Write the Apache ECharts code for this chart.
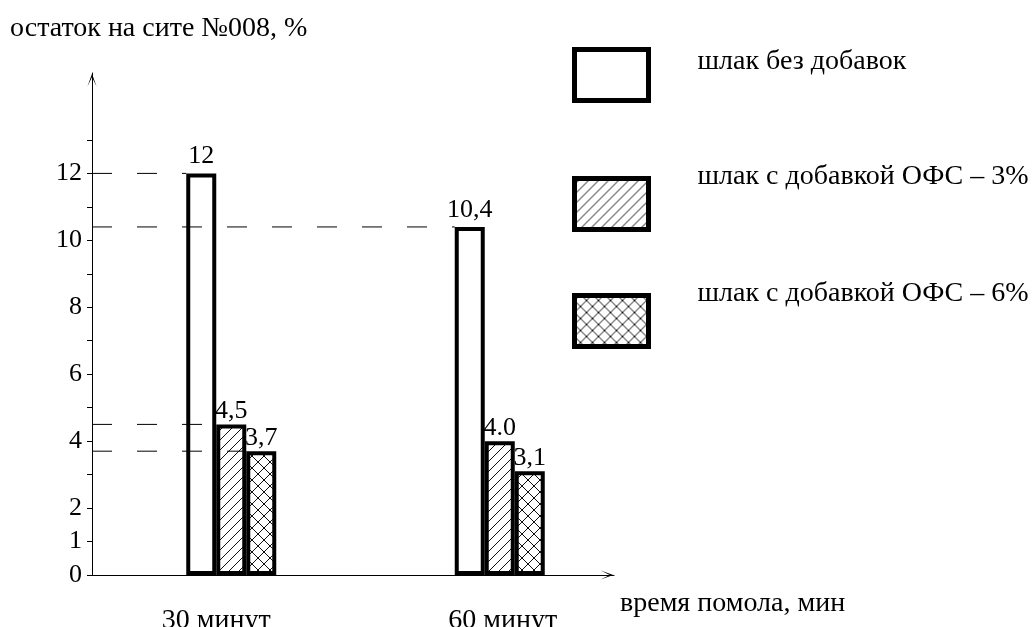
<!DOCTYPE html>
<html><head><meta charset="utf-8">
<script src="https://cdn.jsdelivr.net/npm/echarts@6/dist/echarts.min.js"></script>
<style>html,body{margin:0;padding:0;background:#fff}#c{width:1032px;height:627px}</style>
</head><body><div id="c"></div>
<script>
// ---- data ----
const categories = ['30 минут', '60 минут'];
const seriesNames = ['шлак без добавок', 'шлак с добавкой ОФС – 3%', 'шлак с добавкой ОФС – 6%'];
const plainValues = [12, 10.4];
const ofs3Values = [4.5, 4.0];
const ofs6Values = [3.7, 3.1];
const plainLabels = ['12', '10,4'];
const ofs3Labels = ['4,5', '4.0'];
const ofs6Labels = ['3,7', '3,1'];
const yTickValues = [0, 1, 2, 3, 4, 5, 6, 7, 8, 9, 10, 11, 12, 13];
const yLabelValues = [0, 1, 2, 4, 6, 8, 10, 12];
const yMin = 0, yMax = 15;
const yAxisTitle = 'остаток на сите №008, %';
const xAxisTitle = 'время помола, мин';
// guide lines: [series index, category index]
const guideRefs = [[0, 0], [0, 1], [1, 0], [2, 0]];

// ---- style ----
const FONT = "'Liberation Serif','Times New Roman',serif";
const BAR_W = 30;
const AXIS_SHIFT = 5;
const allValues = [plainValues, ofs3Values, ofs6Values];
const allLabels = [plainLabels, ofs3Labels, ofs6Labels];
const labelDistance = [4, 0, 0];

function hatchTile() {
  const s = 10, c = document.createElement('canvas'); c.width = c.height = s;
  const g = c.getContext('2d'); g.fillStyle = '#fff'; g.fillRect(0, 0, s, s);
  g.strokeStyle = '#111'; g.lineWidth = 1; g.beginPath();
  g.moveTo(-1, s + 1); g.lineTo(s + 1, -1);
  g.moveTo(-1, 1); g.lineTo(1, -1);
  g.moveTo(s - 1, s + 1); g.lineTo(s + 1, s - 1);
  g.stroke(); return c;
}
function crossTile() {
  const s = 12, c = document.createElement('canvas'); c.width = c.height = s;
  const g = c.getContext('2d'); g.fillStyle = '#fff'; g.fillRect(0, 0, s, s);
  g.strokeStyle = '#111'; g.lineWidth = 1; g.beginPath();
  g.moveTo(-1, s + 1); g.lineTo(s + 1, -1);
  g.moveTo(-1, -1); g.lineTo(s + 1, s + 1);
  g.moveTo(-1, 1); g.lineTo(1, -1);
  g.moveTo(s - 1, s + 1); g.lineTo(s + 1, s - 1);
  g.moveTo(s - 1, -1); g.lineTo(s + 1, 1);
  g.moveTo(-1, s - 1); g.lineTo(1, s + 1);
  g.stroke(); return c;
}
const fills = ['#ffffff', { image: hatchTile(), repeat: 'repeat' }, { image: crossTile(), repeat: 'repeat' }];

const arrowPath = 'path://M0,14 L5,0 L10,14 L5,4 Z';

function barSeries(i) {
  return {
    type: 'bar', name: seriesNames[i], xAxisIndex: 0, yAxisIndex: 0,
    data: allValues[i], barWidth: BAR_W, barGap: '0%',
    itemStyle: { color: fills[i], borderColor: '#000', borderWidth: 4 },
    label: { show: true, position: 'top', distance: labelDistance[i], color: '#000', fontFamily: FONT, fontSize: 26,
      formatter: p => allLabels[i][p.dataIndex] },
    emphasis: { disabled: true }, z: 2
  };
}

// legend boxes: outer top of each box, and how far the text sits above box centre
const legendBoxTops = [47, 176, 293];
const legendTextShift = [13, 27, 27.5];
const LEG_W = 74, LEG_H = 51, LEG_BORDER = 5;

function legendIcon(e) {
  return `path://M0,0 M0,${e} L${LEG_W},${e} L${LEG_W},${e + LEG_H} L0,${e + LEG_H} Z`;
}

const textBase = { fontFamily: FONT, color: '#000' };

const option = {
  animation: false,
  backgroundColor: '#fff',
  title: { text: yAxisTitle, left: 5, top: 10,
    textStyle: Object.assign({ fontSize: 28, fontWeight: 'normal' }, textBase) },
  legend: seriesNames.map((n, i) => {
    const e = 2 * legendTextShift[i];
    return {
      data: [{ name: n, icon: legendIcon(e) }], orient: 'vertical', left: 572,
      top: legendBoxTops[i] - e,
      padding: 0, itemWidth: LEG_W, itemHeight: LEG_H + e, selectedMode: false,
      itemStyle: { borderWidth: LEG_BORDER, borderColor: '#000' },
      textStyle: Object.assign({ fontSize: 28, padding: [0, 0, 0, 44] }, textBase)
    };
  }),
  grid: [
    { left: 92 + AXIS_SHIFT, top: 73, width: 537, height: 502, outerBoundsMode: 'none', containLabel: false },
    { left: 92, top: 73, width: 522, height: 502, outerBoundsMode: 'none', containLabel: false }
  ],
  xAxis: [
    { gridIndex: 0, type: 'category', data: categories,
      axisLine: { show: false }, axisTick: { show: false },
      axisLabel: Object.assign({ fontSize: 28, margin: 32,
        formatter: (v, idx) => `{c${idx}|${v}}`,
        rich: {
          c0: Object.assign({ fontSize: 28, padding: [0, 30, 0, 0] }, textBase),
          c1: Object.assign({ fontSize: 28, padding: [0, 0, 0, 6] }, textBase)
        } }, textBase) },
    { gridIndex: 1, type: 'value', min: 0, max: 1,
      axisLine: { show: true, symbol: ['none', arrowPath], symbolSize: [9, 14], symbolOffset: [0, -7],
        lineStyle: { color: '#000', width: 1 } },
      axisTick: { show: false }, axisLabel: { show: false }, splitLine: { show: false },
      name: xAxisTitle, nameLocation: 'end', nameGap: 6,
      nameTextStyle: Object.assign({ fontSize: 28, align: 'left', verticalAlign: 'top', lineHeight: 58 }, textBase) }
  ],
  yAxis: [
    { gridIndex: 0, type: 'value', min: yMin, max: yMax, show: false, splitLine: { show: false } },
    { gridIndex: 1, type: 'value', min: yMin, max: yMax,
      axisLine: { show: true, symbol: ['none', arrowPath], symbolSize: [9, 14], symbolOffset: [0, -7],
        lineStyle: { color: '#000', width: 1 } },
      axisTick: { show: true, customValues: yTickValues, length: 5, lineStyle: { color: '#000' } },
      axisLabel: Object.assign({ customValues: yLabelValues, fontSize: 26, margin: 10 }, textBase),
      splitLine: { show: false } }
  ],
  series: [
    barSeries(0), barSeries(1), barSeries(2),
    {
      type: 'custom', xAxisIndex: 0, yAxisIndex: 0, silent: true, z: 5,
      data: guideRefs.map(([s, c]) => [c, allValues[s][c], s]),
      encode: { x: 0, y: 1 },
      renderItem: function (params, api) {
        const cat = api.value(0), val = api.value(1), s = api.value(2);
        const p = api.coord([cat, val]);
        const xEnd = p[0] - 1.5 * BAR_W + s * BAR_W;
        const xStart = params.coordSys.x - AXIS_SHIFT;
        return { type: 'line', shape: { x1: xStart, y1: p[1], x2: xEnd, y2: p[1] },
          style: { stroke: '#000', lineWidth: 1, lineDash: [20, 25] } };
      }
    }
  ]
};
const chart = echarts.init(document.getElementById('c'), null, { renderer: 'canvas' });
chart.setOption(option);
</script></body></html>
